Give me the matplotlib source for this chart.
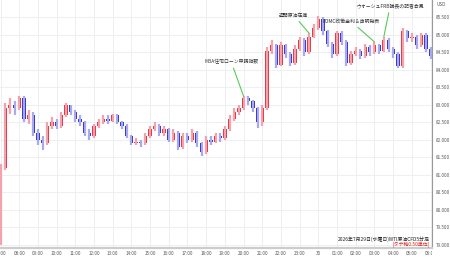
import matplotlib
matplotlib.use('Agg')
import matplotlib.pyplot as plt
import numpy as np
from matplotlib.ticker import FormatStrFormatter
from matplotlib.transforms import Bbox

plt.rcParams['font.family'] = ['Noto Sans CJK JP', 'DejaVu Sans']

# 15分ごとの終値・高値・安値 (07:00 から)
first_open = 79.05
closes = [81.20, 82.90, 83.00, 82.90, 83.20, 82.60, 82.70, 82.20, 82.00, 81.90,
          82.40, 82.50, 82.40, 82.70, 83.00, 82.80, 82.60, 82.50, 82.20, 82.10,
          82.40, 82.50, 82.60, 82.55, 82.70, 82.50, 82.40, 82.10, 81.90, 81.95,
          81.90, 82.10, 82.30, 82.40, 82.20, 82.30, 82.00, 82.20, 81.80, 82.10,
          82.00, 82.20, 81.90, 81.65, 82.00, 81.95, 82.10, 82.05, 82.30, 82.60,
          82.80, 82.90, 83.20, 83.10, 82.90, 82.50, 82.90, 84.55, 84.70, 84.15,
          84.70, 84.45, 84.20, 84.60, 84.85, 84.50, 84.95, 85.20, 85.45, 85.10,
          84.75, 84.45, 85.05, 84.80, 84.20, 84.45, 84.55, 84.40, 84.65, 84.50,
          84.70, 84.55, 84.85, 84.60, 84.45, 84.10, 85.10, 84.90, 84.95, 84.70,
          85.00, 84.60, 84.40]
highs = [81.30, 83.05, 83.20, 83.10, 83.25, 83.25, 82.85, 82.80, 82.30, 82.10,
         82.50, 82.65, 82.60, 82.80, 83.05, 83.00, 82.85, 82.70, 82.55, 82.30,
         82.45, 82.60, 82.70, 82.70, 82.75, 82.75, 82.55, 82.45, 82.15, 82.05,
         82.00, 82.20, 82.40, 82.50, 82.45, 82.40, 82.35, 82.30, 82.25, 82.20,
         82.20, 82.30, 82.25, 81.95, 82.10, 82.10, 82.20, 82.20, 82.40, 82.70,
         82.90, 83.00, 83.25, 83.25, 83.15, 82.95, 83.00, 84.65, 84.85, 84.75,
         84.80, 84.75, 84.50, 84.70, 84.95, 84.90, 85.05, 85.30, 85.55, 85.50,
         85.15, 84.80, 85.10, 85.10, 84.85, 84.55, 84.65, 84.60, 84.75, 84.70,
         84.80, 84.75, 84.95, 84.90, 84.65, 84.50, 85.20, 85.15, 85.05, 85.00,
         85.05, 85.05, 84.65]
lows = [79.00, 81.15, 82.75, 82.70, 82.85, 82.50, 82.45, 82.10, 81.85, 81.70,
        81.85, 82.30, 82.30, 82.35, 82.65, 82.70, 82.50, 82.40, 82.10, 82.00,
        82.05, 82.35, 82.45, 82.45, 82.50, 82.45, 82.30, 82.05, 81.85, 81.85,
        81.80, 81.85, 82.05, 82.25, 82.10, 82.10, 81.95, 81.95, 81.70, 81.75,
        81.90, 81.95, 81.80, 81.55, 81.60, 81.85, 81.90, 81.95, 82.00, 82.25,
        82.55, 82.70, 82.85, 83.00, 82.80, 82.35, 82.40, 82.85, 84.45, 84.05,
        84.10, 84.35, 84.10, 84.15, 84.55, 84.40, 84.45, 84.90, 85.15, 85.00,
        84.65, 84.35, 84.40, 84.70, 84.10, 84.15, 84.40, 84.30, 84.35, 84.40,
        84.45, 84.45, 84.50, 84.50, 84.35, 84.05, 84.05, 84.80, 84.80, 84.60,
        84.65, 84.50, 84.30]

hour_labels = ['07:00', '08:00', '09:00', '10:00', '11:00', '12:00', '13:00',
               '14:00', '15:00', '16:00', '17:00', '18:00', '19:00', '20:00',
               '21:00', '22:00', '23:00', '30', '01:00', '02:00', '03:00',
               '04:00', '05:00', '06:00']
y_ticks = [79.0, 79.5, 80.0, 80.5, 81.0, 81.5, 82.0, 82.5, 83.0, 83.5, 84.0, 84.5, 85.0, 85.5]

# (イベント名, ローソク足番号, テキストのずらし量 pt)
events = [('MBA住宅ローン申請指数', 52, (-9, 25)),
          ('週間原油在庫', 66, (-11, 13)),
          ('FOMC政策金利＆声明発表', 80, (-17, 15)),
          ('ウォーシュFRB議長の記者会見', 82, (4.5, 22))]

opens = [first_open] + closes[:-1]
idx = np.arange(len(closes))
o = np.array(opens)
c = np.array(closes)
hi = np.array(highs)
lo = np.array(lows)
up = c >= o

fig = plt.figure(figsize=(4.5, 2.58), dpi=100)
ax = fig.add_axes([0, 10 / 258, 432 / 450, 248 / 258])

ax.set_xlim(-0.107, 92.3)
ax.set_ylim(78.914, 86.0)

ax.set_yticks(y_ticks)
ax.set_xticks(np.arange(0, 93, 4))
ax.set_xticklabels(hour_labels)
ax.grid(True, color='#e9eef0', lw=0.6)
ax.set_axisbelow(True)

# ヒゲ
ax.vlines(idx[up], lo[up], hi[up], color='#f2a3ad', lw=1.6)
ax.vlines(idx[~up], lo[~up], hi[~up], color='#a9a9f2', lw=1.6)
# 実体
ax.bar(idx[up], (c - o)[up], bottom=o[up], width=0.7, color='#e4303c', lw=0)
ax.bar(idx[~up], (o - c)[~up], bottom=c[~up], width=0.7, color='#2f2fcc', lw=0)

for name, k, off in events:
    ax.annotate(name, xy=(k, highs[k]), xytext=off, textcoords='offset points',
                ha='center', va='center', fontsize=3.5, color='#333333',
                arrowprops=dict(arrowstyle='-', color='#55cc55', lw=0.8,
                                shrinkA=1, shrinkB=0))

ax.yaxis.tick_right()
ax.yaxis.set_major_formatter(FormatStrFormatter('%.3f'))
ax.tick_params(axis='both', length=0, labelsize=3.3, labelcolor='#555555')
ax.tick_params(axis='y', pad=2.5)
ax.tick_params(axis='x', pad=2.5)
for s in ['left', 'top']:
    ax.spines[s].set_visible(False)
ax.spines['right'].set_color('#999999')
ax.spines['right'].set_linewidth(0.8)
ax.spines['bottom'].set_color('#cccccc')
ax.spines['bottom'].set_linewidth(1.6)

# 右端のラベルは軸で切れる
clip = Bbox.from_extents(0, 0, 432, 258)
for lab in ax.get_xticklabels():
    lab.set_clip_on(True)
    lab.set_clip_box(clip)

fig.text(441 / 450, 1 - 5 / 258, 'USD', ha='center', va='center', fontsize=3.3, color='#555555')
fig.text(430 / 450, 1 - 239 / 258, '2026年7月29日(水曜日)WTI原油CFD5分足',
         ha='right', va='center', fontsize=3.5, color='#222222')
fig.text(430 / 450, 1 - 245 / 258, '[タテ軸0.50単位]',
         ha='right', va='center', fontsize=3.5, color='#e02020')

fig.savefig('out.png', dpi=100)
